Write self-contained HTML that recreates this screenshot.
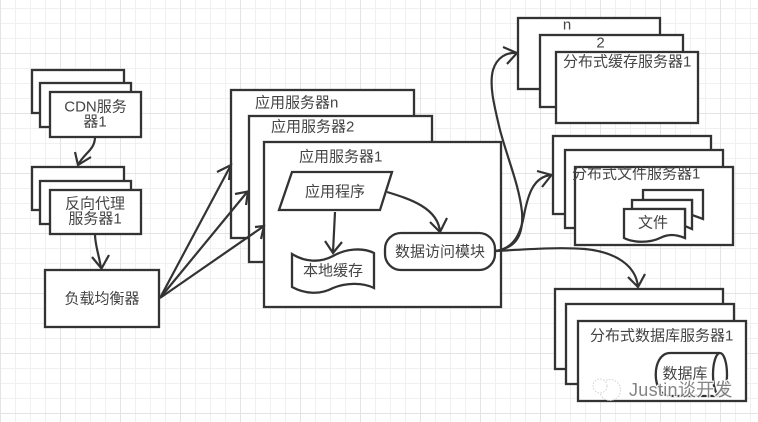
<!DOCTYPE html>
<html><head><meta charset="utf-8"><style>
html,body{margin:0;padding:0;background:#fff}
svg{display:block}
text{font-family:"Liberation Sans","Noto Sans CJK SC",sans-serif;font-size:15px;fill:#444;dominant-baseline:central}
.m{text-anchor:middle}
.b{fill:#fff;stroke:#333;stroke-width:2.300}
.l{fill:none;stroke:#333;stroke-width:2.200}
.a{fill:none;stroke:#333;stroke-width:2.200;stroke-linejoin:miter}
</style></head><body>
<svg width="758" height="422" viewBox="0 0 758 422" xmlns="http://www.w3.org/2000/svg">
<defs>
<pattern id="g" width="15" height="15" patternUnits="userSpaceOnUse" y="8">
<path d="M0.500 0V15M0 0.500H15" fill="none" stroke="#f0f0f0" stroke-width="1"/>
</pattern>
<pattern id="G" width="60" height="60" patternUnits="userSpaceOnUse" y="53">
<path d="M0.500 0V60M0 0.500H60" fill="none" stroke="#e4e4e4" stroke-width="1"/>
</pattern>
</defs>
<rect width="758" height="422" fill="#fff"/>
<rect width="758" height="422" fill="url(#g)"/>
<rect width="758" height="422" fill="url(#G)"/>

<!-- CDN -->
<rect class="b" x="32" y="70" width="92" height="43"/>
<rect class="b" x="40" y="83" width="91" height="44"/>
<rect class="b" x="50" y="92" width="91" height="45"/>
<text class="m" x="95.500" y="107">CDN服务</text>
<text class="m" x="95" y="122">器1</text>

<!-- Proxy -->
<rect class="b" x="32" y="167" width="92" height="43"/>
<rect class="b" x="40" y="181" width="91" height="43"/>
<rect class="b" x="50" y="190" width="91" height="44"/>
<text class="m" x="95" y="204">反向代理</text>
<text class="m" x="95" y="219">服务器1</text>

<!-- LB -->
<rect class="b" x="45" y="270" width="114" height="57"/>
<text class="m" x="102" y="299">负载均衡器</text>

<!-- App -->
<rect class="b" x="231" y="90" width="183" height="148"/>
<text x="255" y="103">应用服务器n</text>
<rect class="b" x="249" y="116" width="183" height="146"/>
<text x="271" y="127">应用服务器2</text>
<rect class="b" x="264" y="142" width="237" height="165"/>
<text x="299" y="157">应用服务器1</text>
<polygon class="b" points="279,210 292,172 392,172 380,210"/>
<text class="m" x="335" y="192">应用程序</text>
<path class="b" d="M292 254C305 262 320 263 333 256C345 249 362 247 374 253V288C362 282 345 283 333 288C320 295 305 294 292 287Z"/>
<text class="m" x="333" y="271">本地缓存</text>
<rect class="b" x="385" y="233" width="110" height="37" rx="16" ry="16"/>
<text class="m" x="440" y="252">数据访问模块</text>

<!-- Cache -->
<rect class="b" x="518" y="18" width="142" height="71"/>
<text class="m" x="567" y="25">n</text>
<rect class="b" x="540" y="35" width="143" height="72"/>
<text class="m" x="600.500" y="43">2</text>
<rect class="b" x="556" y="52" width="142" height="71"/>
<text x="563" y="62">分布式缓存服务器1</text>

<!-- File -->
<rect class="b" x="553" y="136" width="158" height="78"/>
<rect class="b" x="565" y="150" width="158" height="78"/>
<rect class="b" x="575" y="167" width="158" height="78"/>
<text x="572" y="174">分布式文件服务器1</text>
<path class="b" d="M643 190H703V219L692 215V200H643Z"/>
<path class="b" d="M632 200H692V229L685 226V209H632Z"/>
<path class="b" d="M624 209H685V238C675 234 668 234 660 238C650 243 634 243 624 238Z"/>
<text class="m" x="653" y="223">文件</text>

<!-- DB -->
<rect class="b" x="555" y="289" width="168" height="80"/>
<rect class="b" x="566" y="304" width="168" height="80"/>
<rect class="b" x="578" y="321" width="168" height="80"/>
<text x="590" y="336">分布式数据库服务器1</text>
<path class="b" d="M720 353H670C651 353 651 396 670 396H720"/>
<ellipse class="b" cx="720" cy="374.500" rx="7" ry="21.500"/>
<text class="m" x="685" y="374">数据库</text>

<!-- connectors -->
<path class="l" d="M95 137C95 150 84 153 78 165"/>
<path class="a" d="M75 152L78 165L91 157"/>
<path class="l" d="M95 234C95 245 99 255 101 268"/>
<path class="a" d="M92 257L101.500 268.500L109 255"/>

<path class="l" d="M160 298L231 165"/>
<path class="a" d="M217 172L231 165L229 180"/>
<path class="l" d="M160 298L248 191"/>
<path class="a" d="M235 194L248 191.500L246 205"/>
<path class="l" d="M160 298L264 226"/>
<path class="a" d="M255 227L264 226L261 239"/>

<path class="l" d="M387 192C410 199 438 208 440 232"/>
<path class="a" d="M430 222L440 232L447 218"/>
<path class="l" d="M335 212L333 252"/>
<path class="a" d="M325 241L333 253L342 242"/>

<path class="l" d="M496 251C512 248 524 240 522 212C519 185 508 160 500 130C494 105 489 85 493 70C497 57 507 52 517 53"/>
<path class="a" d="M503 47L517 53L507 64"/>
<path class="l" d="M496 251C515 248 521 232 524 215C528 195 533 177 551 175"/>
<path class="a" d="M537 171L551.500 175L542 187"/>
<path class="l" d="M496 251C530 249 560 247 585 249C615 252 636 265 638 287"/>
<path class="a" d="M628 277L638 287L645 274"/>

<!-- watermark -->
<g opacity=".9">
<circle cx="610" cy="390" r="10.500" fill="#fff" stroke="#ccc" stroke-width="1" stroke-dasharray="1.500 1.500"/>
<circle cx="600" cy="386" r="7" fill="#fff" stroke="#ccc" stroke-width="1" stroke-dasharray="1.500 1.500"/>
<text x="629" y="390" style="font-size:18px;fill:#777;stroke:#fff;stroke-width:2.500px;paint-order:stroke;letter-spacing:.3px">Justin谈开发</text>
</g>
</svg>
</body></html>
